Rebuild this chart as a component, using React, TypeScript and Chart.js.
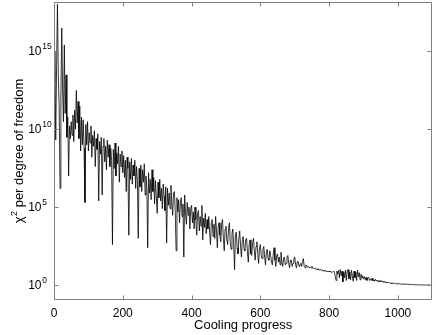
import React, { useEffect, useRef } from "react";
import { Chart, registerables } from "chart.js";

Chart.register(...registerables);

// Cooling progress step between samples
const STEP = 2.5;

// chi^2 per degree of freedom, one value every STEP of cooling progress (0 .. 1100)
const chiValues: number[] = [
  // 0 - 47.5
  1e13, 1e15, 2e9, 1e14, 1e18, 3e13, 3e11, 1.6e6, 1e12, 3e16,
  3e12, 3e10, 2.5e15, 1e11, 3e13, 3e9, 6e10, 1e7, 1.6e10, 2.5e9,
  // 50 - 97.5
  3e10, 4e9, 8e10, 1.6e9, 1.6e11, 1e10, 3e12, 2.5e10, 6e11, 2.5e9,
  3e11, 4e8, 6e10, 1e9, 4e10, 6e8, 2e5, 2e10, 1e9, 3e10,
  // 100 - 147.5
  4e8, 6e9, 1.3e9, 1.6e10, 1.6e8, 4e9, 8e8, 8e9, 4e7, 2.5e9,
  5e8, 5e9, 2.5e5, 1.6e9, 2.5e8, 3e9, 6e5, 8e8, 2.5e9, 8e7,
  // 150 - 197.5
  8e8, 2.5e7, 2e9, 1.6e8, 1e9, 4e7, 6e8, 1e8, 4e2, 5e8,
  3e7, 1.3e9, 1e7, 3e8, 6e7, 8e8, 4e6, 2.5e8, 4e7, 4e8,
  // 200 - 247.5
  1.6e7, 2e8, 8e6, 1e8, 1e6, 1.6e8, 3e7, 1.6e3, 8e7, 6e6,
  1.3e8, 3e6, 5e7, 1e7, 1e8, 1.6e6, 4e7, 5e6, 1e3, 3e7,
  // 250 - 297.5
  2e6, 5e7, 1e6, 2.5e7, 4e6, 6e7, 6e5, 1e7, 1.6e6, 2.5e2,
  1.6e7, 8e5, 6e6, 3e5, 2.5e7, 1e6, 8e6, 1.6e5, 5e6, 5e5,
  // 300 - 347.5
  4e4, 4e6, 4e5, 6e6, 2.5e5, 1.6e6, 8e4, 3e6, 5e5, 6e4,
  2e6, 5e2, 1.6e6, 1.3e5, 8e5, 8e4, 2.5e6, 2e5, 3e4, 8e5,
  // 350 - 397.5
  1e6, 6e4, 1.6e2, 4e5, 5e4, 3e5, 1e4, 2e5, 4e5, 2.5e4,
  1.6e5, 63, 6e5, 4e4, 8e3, 2e5, 3e4, 1e5, 4e3, 8e4,
  // 400 - 447.5
  1.3e5, 1e4, 5e4, 4e3, 1e5, 1.6e4, 1.6e3, 4e4, 6e4, 3e3,
  2.5e4, 6e3, 1.3e5, 8e2, 2e4, 5e3, 4e4, 2e3, 1.6e4, 4e3,
  // 450 - 497.5
  2.5e4, 2.5e3, 4e2, 1e4, 1.6e4, 1.3e3, 8e3, 1e3, 2.5e4, 3e3,
  2.5e2, 6e3, 1e4, 1.6e3, 6e2, 8e3, 1.6e4, 1e3, 1.6e2, 4e3,
  // 500 - 547.5
  6e3, 8e2, 4e2, 4e3, 1e4, 6e2, 2e2, 2e3, 4e3, 4e2,
  10, 1.6e3, 2.5e3, 2.5e2, 100, 1e3, 3e3, 3e2, 63, 8e2,
  // 550 - 597.5
  1.3e3, 2e2, 1.6e2, 8e2, 1e3, 130, 30, 4e2, 8e2, 100,
  80, 5e2, 1e3, 1.6e2, 40, 3e2, 6e2, 100, 25, 2.5e2,
  // 600 - 647.5
  4e2, 80, 50, 2e2, 3e2, 63, 20, 130, 2e2, 50,
  40, 1.6e2, 80, 30, 20, 100, 2.5e2, 40, 16, 80,
  // 650 - 697.5
  100, 30, 63, 20, 130, 30, 16, 50, 63, 20,
  25, 63, 80, 25, 13, 40, 40, 16, 25, 50,
  // 700 - 747.5
  63, 20, 13, 32, 32, 16, 20, 25, 16, 32,
  50, 16, 13, 20, 18, 14, 16, 13, 14, 13,
  // 750 - 797.5
  16, 12.5, 11, 12.5, 12.5, 10, 11, 10, 11, 9,
  10, 9, 10, 8, 9, 8, 9, 7, 8, 7,
  // 800 - 847.5
  8, 7, 7.5, 6.3, 7, 8, 7, 4, 2, 8,
  5, 9, 3, 10, 4, 8, 1.6, 7, 3, 9,
  // 850 - 897.5
  2, 8, 10, 2.5, 7, 2.2, 9, 4, 1.8, 8,
  3, 7, 2, 9, 3.5, 6.3, 2.2, 5, 2.8, 4,
  // 900 - 947.5
  2.5, 3.5, 2.2, 3.2, 2, 2.8, 3.2, 2, 2.5, 2,
  2.8, 1.9, 2.2, 1.8, 2.4, 1.8, 2.1, 1.65, 2, 1.6,
  // 950 - 997.5
  2, 1.6, 1.9, 1.5, 1.8, 1.48, 1.65, 1.4, 1.6, 1.35,
  1.5, 1.32, 1.4, 1.26, 1.38, 1.26, 1.32, 1.23, 1.29, 1.2,
  // 1000 - 1047.5
  1.26, 1.2, 1.23, 1.17, 1.23, 1.15, 1.2, 1.15, 1.17, 1.12,
  1.17, 1.12, 1.15, 1.1, 1.12, 1.1, 1.12, 1.07, 1.1, 1.07,
  // 1050 - 1100
  1.08, 1.06, 1.07, 1.05, 1.06, 1.04, 1.05, 1.04, 1.04, 1.03,
  1.04, 1.02, 1.03, 1.02, 1.02, 1.01, 1.02, 1.01, 1.01, 1.0, 1.0,
];

const X_MIN = 0;
const X_MAX = 1100;
const Y_MIN = 0.112;
const Y_MAX = 1.41e18;
const xTickValues = [0, 200, 400, 600, 800, 1000];
const yTickExponents = [0, 5, 10, 15];
const xTitle = "Cooling progress";
const yTitleSymbol = "χ";
const yTitleSup = "2";
const yTitleRest = " per degree of freedom";

const FONT = '"Liberation Sans", Arial, Helvetica, sans-serif';
const FRAME = "#808080";

export default function App() {
  const ref = useRef<HTMLCanvasElement | null>(null);

  useEffect(() => {
    if (!ref.current) return;
    const points = chiValues.map((v, i) => ({ x: i * STEP, y: v }));

    const axesPlugin = {
      id: "matlabAxes",
      afterDatasetsDraw(chart: any) {
        const ctx = chart.ctx as CanvasRenderingContext2D;
        const { left, right, top, bottom } = chart.chartArea;
        const xs = chart.scales.x;
        const ys = chart.scales.y;
        const L = Math.round(left) + 0.5;
        const R = Math.round(right) - 0.5;
        const T = Math.round(top) + 0.5;
        const B = Math.round(bottom) - 0.5;
        ctx.save();
        ctx.strokeStyle = FRAME;
        ctx.lineWidth = 1;
        ctx.beginPath();
        ctx.rect(L, T, R - L, B - T);
        const tl = 4;
        xTickValues.forEach((v) => {
          const px = Math.round(xs.getPixelForValue(v)) + 0.5;
          ctx.moveTo(px, B);
          ctx.lineTo(px, B - tl);
          ctx.moveTo(px, T);
          ctx.lineTo(px, T + tl);
        });
        yTickExponents.forEach((e) => {
          const py = Math.round(ys.getPixelForValue(Math.pow(10, e))) + 0.5;
          ctx.moveTo(L, py);
          ctx.lineTo(L + tl, py);
          ctx.moveTo(R, py);
          ctx.lineTo(R - tl, py);
        });
        ctx.stroke();

        ctx.fillStyle = "#000";
        ctx.font = `12px ${FONT}`;
        ctx.textAlign = "center";
        ctx.textBaseline = "alphabetic";
        xTickValues.forEach((v) => {
          const px = xs.getPixelForValue(v);
          ctx.fillText(String(v), px, 316.5);
        });
        yTickExponents.forEach((e) => {
          const py = ys.getPixelForValue(Math.pow(10, e));
          ctx.font = `12px ${FONT}`;
          ctx.textAlign = "right";
          ctx.fillText("10", 41.5, py + 4.3);
          ctx.font = `8.5px ${FONT}`;
          ctx.textAlign = "left";
          ctx.fillText(String(e), 42.3, py - 2);
        });
        ctx.font = `13px ${FONT}`;
        ctx.textAlign = "center";
        ctx.fillText(xTitle, (left + right) / 2, 328.5);
        ctx.translate(22.5, (top + bottom) / 2);
        ctx.rotate(-Math.PI / 2);
        ctx.textAlign = "left";
        ctx.font = `13px ${FONT}`;
        const w1 = ctx.measureText(yTitleSymbol).width;
        const w3 = ctx.measureText(yTitleRest).width;
        ctx.font = `9px ${FONT}`;
        const w2 = ctx.measureText(yTitleSup).width;
        const total = w1 + w2 + 0.5 + w3;
        let cx = -total / 2;
        ctx.font = `13px ${FONT}`;
        ctx.fillText(yTitleSymbol, cx, 0);
        cx += w1 + 0.5;
        ctx.font = `9px ${FONT}`;
        ctx.fillText(yTitleSup, cx, -6);
        cx += w2;
        ctx.font = `13px ${FONT}`;
        ctx.fillText(yTitleRest, cx, 0);
        ctx.restore();
      },
    };

    const chart = new Chart(ref.current, {
      type: "line",
      data: {
        datasets: [
          {
            data: points,
            borderColor: "#000",
            borderWidth: 0.8,
            pointRadius: 0,
            fill: false,
            tension: 0,
          },
        ],
      },
      options: {
        animation: false,
        responsive: false,
        maintainAspectRatio: false,
        events: [],
        layout: { padding: { left: 0, right: 3.7, top: 2, bottom: 0 } },
        plugins: {
          legend: { display: false },
          tooltip: { enabled: false },
          title: { display: false },
        },
        scales: {
          x: {
            type: "linear",
            min: X_MIN,
            max: X_MAX,
            grid: { display: false },
            border: { display: false },
            ticks: { display: false },
            afterBuildTicks: (s: any) => {
              s.ticks = xTickValues.map((v) => ({ value: v }));
            },
            afterFit: (s: any) => {
              s.height = 35;
            },
          },
          y: {
            type: "logarithmic",
            min: Y_MIN,
            max: Y_MAX,
            grid: { display: false },
            border: { display: false },
            ticks: { display: false },
            afterBuildTicks: (s: any) => {
              s.ticks = yTickExponents.map((e) => ({ value: Math.pow(10, e) }));
            },
            afterFit: (s: any) => {
              s.width = 54;
            },
          },
        },
      },
      plugins: [axesPlugin],
    });
    return () => chart.destroy();
  }, []);

  return (
    <div style={{ position: "absolute", left: 0, top: 0, width: 436, height: 335, background: "#fff" }}>
      <canvas ref={ref} width={436} height={335} style={{ display: "block", width: 436, height: 335 }} />
    </div>
  );
}
